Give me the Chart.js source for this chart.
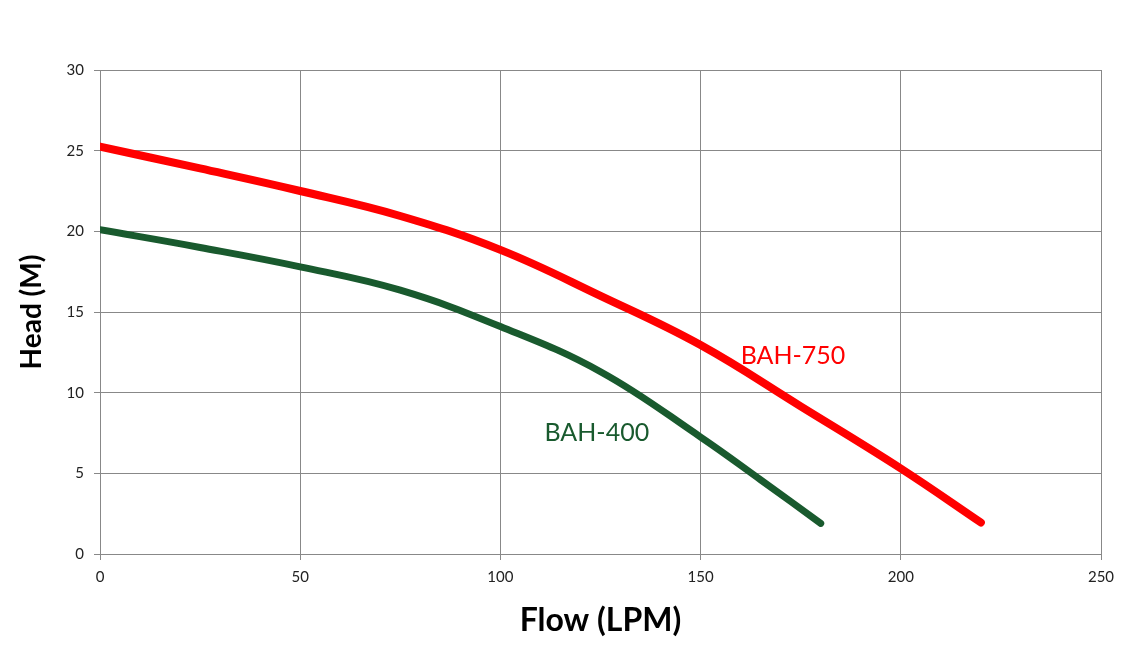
<!DOCTYPE html>
<html>
<head>
  <title>Pump Curves</title>
  <script src="https://cdn.jsdelivr.net/npm/chart.js"></script>
  <style>
    body {
      margin: 0;
      background-color: #fff;
    }

    .chart-container {
      width: 1129px;
      height: 649px;
    }
  </style>
</head>
<body>
  <div class="chart-container">
    <canvas id="pumpChart" width="1129" height="649"></canvas>
  </div>

  <script>
    // flow (LPM) vs head (M)
    const flow750 = [0, 25, 50, 75, 100, 125, 150, 175, 200, 220];
    const head750 = [25.25, 23.9, 22.5, 20.95, 18.85, 16.0, 12.95, 9.15, 5.3, 1.95];

    const flow400 = [0, 25, 50, 75, 100, 125, 150, 165, 180];
    const head400 = [20.1, 19.0, 17.8, 16.35, 14.1, 11.3, 7.25, 4.6, 1.9];

    const seriesNames = ['BAH-750', 'BAH-400'];
    const seriesColors = ['#ff0000', '#195a2e'];
    // where each curve's name sits, in flow / head units
    const labelAt = [[160, 12.3], [111, 7.5]];

    const toPoints = (xs, ys) => xs.map((x, i) => ({ x: x, y: ys[i] }));

    // writes the curve names straight onto the plot
    const curveLabels = {
      id: 'curveLabels',
      afterDatasetsDraw(chart) {
        const ctx = chart.ctx;
        const xs = chart.scales.x;
        const ys = chart.scales.y;
        ctx.save();
        ctx.font = '25px Lato';
        ctx.textAlign = 'left';
        ctx.textBaseline = 'middle';
        seriesNames.forEach((name, i) => {
          ctx.fillStyle = seriesColors[i];
          ctx.fillText(name, xs.getPixelForValue(labelAt[i][0]), ys.getPixelForValue(labelAt[i][1]));
        });
        ctx.restore();
      }
    };

    const gridColor = '#888888';

    new Chart(document.getElementById('pumpChart').getContext('2d'), {
      type: 'scatter',
      data: {
        datasets: [
          {
            label: seriesNames[0],
            data: toPoints(flow750, head750),
            borderColor: seriesColors[0],
            borderWidth: 8,
            borderCapStyle: 'round',
            showLine: true,
            tension: 0.4,
            pointRadius: 0
          },
          {
            label: seriesNames[1],
            data: toPoints(flow400, head400),
            borderColor: seriesColors[1],
            borderWidth: 7,
            borderCapStyle: 'round',
            showLine: true,
            tension: 0.4,
            pointRadius: 0
          }
        ]
      },
      options: {
        responsive: false,
        animation: false,
        layout: {
          padding: { left: 0, right: 28, top: 70, bottom: 0 }
        },
        plugins: {
          legend: { display: false },
          tooltip: { enabled: false }
        },
        scales: {
          x: {
            type: 'linear',
            min: 0,
            max: 250,
            afterFit: (scale) => { scale.height = 95; },
            ticks: {
              stepSize: 50,
              padding: 8,
              color: '#222',
              font: { family: 'Lato', size: 15 }
            },
            grid: { color: gridColor, tickLength: 6 },
            border: { color: gridColor },
            title: {
              display: true,
              text: 'Flow (LPM)',
              color: '#000',
              padding: { top: 0, bottom: 9 },
              font: { family: 'Lato', size: 32, weight: 'bold' }
            }
          },
          y: {
            min: 0,
            max: 30,
            afterFit: (scale) => { scale.width = 100; },
            ticks: {
              stepSize: 5,
              padding: 10,
              color: '#222',
              font: { family: 'Lato', size: 15 }
            },
            grid: { color: gridColor, tickLength: 6 },
            border: { color: gridColor },
            title: {
              display: true,
              text: 'Head (M)',
              color: '#000',
              padding: { top: 15, bottom: 0 },
              font: { family: 'Lato', size: 28, weight: 'bold' }
            }
          }
        }
      },
      plugins: [curveLabels]
    });
  </script>
</body>
</html>
